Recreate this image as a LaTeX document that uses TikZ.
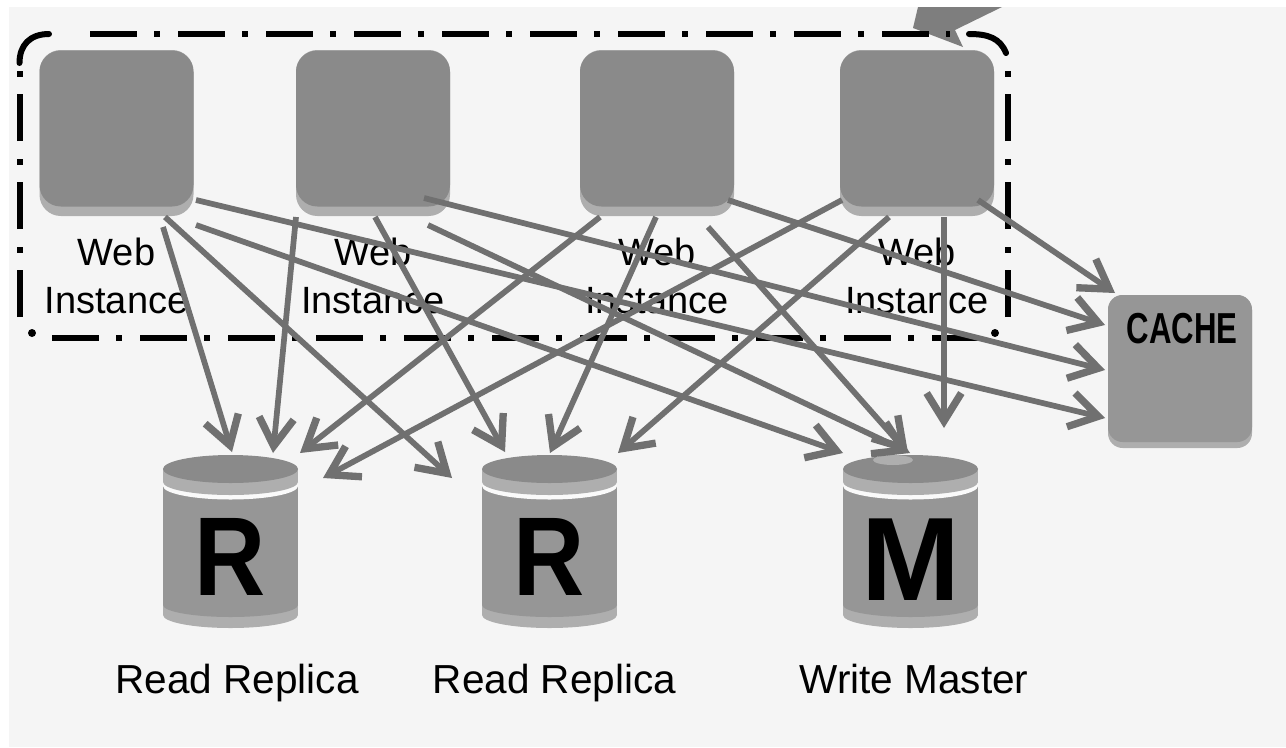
\documentclass[tikz,border=0pt]{standalone}
\usepackage{fontspec}
\usepackage{graphicx}
\setmainfont{Liberation Sans}
\usetikzlibrary{arrows.meta,calc}
\definecolor{bgc}{HTML}{F5F5F5}
\definecolor{boxdark}{HTML}{8A8A8A}
\definecolor{boxlight}{HTML}{AEAEAE}
\definecolor{arrowc}{HTML}{707070}
\tikzset{
  webbox/.style={draw=none,fill=boxlight,rounded corners=16pt,minimum width=115.5pt,minimum height=124.5pt,inner sep=0pt},
  webtop/.style={draw=none,fill=boxdark,rounded corners=16pt,minimum width=115.5pt,minimum height=117pt,inner sep=0pt},
  weblabel/.style={align=center,inner sep=0pt,font=\fontsize{28.5}{36}\selectfont},
  conn/.style={draw=arrowc,line width=4.3pt,-{Straight Barb[length=21pt,width=26pt,line width=5.5pt]}},
  framedash/.style={line width=4.5pt,dash pattern=on 35.25pt off 13pt on 4.5pt off 13.25pt},
  framecorner/.style={line width=4.5pt,line cap=round},
  framedot/.style={fill=black,draw=none,circle,minimum size=6pt,inner sep=0pt},
  dblabel/.style={anchor=base,inner sep=0pt,font=\fontsize{30.4}{36}\selectfont},
  dbletter/.style={anchor=base,inner sep=0pt,font=\fontsize{84}{90}\selectfont\bfseries},
}
\newcommand{\dbcyl}[4]{%
  \begin{scope}[shift={(#2,0)}]
    \fill[boxlight] (-67.5,600) rectangle (67.5,615);
    \fill[boxlight] (0,615) ellipse [x radius=67.5,y radius=13];
    \fill[boxdark!90!white] (-67.5,486) rectangle (67.5,605);
    \fill[boxdark!90!white] (0,605) ellipse [x radius=67.5,y radius=12];
    \fill[white!50!bgc] (0,486) ellipse [x radius=67.5,y radius=13.5];
    \fill[boxlight] (-67.5,469) rectangle (67.5,482);
    \fill[boxlight] (0,482) ellipse [x radius=67.5,y radius=13];
    \fill[boxdark] (0,469) ellipse [x radius=67.5,y radius=14];
  \end{scope}
  \node[minimum width=101pt,minimum height=130pt,inner sep=0pt] (#1) at (#2,541) {};
  \node[dbletter] (#1l) at (#2,#4) {#3};
}
\begin{document}
\begin{tikzpicture}[x=0.75pt,y=-0.75pt]
\useasboundingbox (0,0) rectangle (1286,747);
\fill[white] (0,0) rectangle (1286,747);
\fill[bgc] (9,7) rectangle (1286,747);

% top wedge
\fill[arrowc!90!white] (918,7) -- (1002,7) -- (955,30) -- (963,47) -- (913,28) -- cycle;

% frame
\draw[framedash] (90,34) -- (950,34);
\draw[framedash] (52,338) -- (979,338);
\draw[framedash] (19.5,317) -- (19.5,70);
\draw[framedash] (1007.5,317) -- (1007.5,70);
\draw[framecorner] (19.5,63) .. controls (19.5,45) and (30,34) .. (49,34);
\draw[framecorner] (969,34) .. controls (988,34) and (1000,38) .. (1006,53);
\node[framedot] (fd1) at (32,333) {};
\node[framedot] (fd2) at (995,333) {};

% web instances
\foreach \n/\cx in {w1/116.5,w2/373,w3/657,w4/917}{
  \node[webbox] (\n) at (\cx,133) {};
  \node[webtop] (\n t) at (\cx,128.5) {};
  \node[weblabel] (\n l) at (\cx,276) {Web\\Instance};
}

% cache
\node[draw=none,fill=boxlight,rounded corners=11pt,minimum width=108pt,minimum height=114.75pt,inner sep=0pt] (cache) at (1180,371.5) {};
\node[draw=none,fill=boxdark!90!white,rounded corners=11pt,minimum width=108pt,minimum height=110.25pt,inner sep=0pt] (cachet) at (1180,368.5) {};
\node[anchor=base,inner sep=0pt,font=\fontsize{32.5}{36}\selectfont\bfseries] (cachel) at (1182,343) {\scalebox{0.72}[1]{CACHE}};

% databases
\dbcyl{r1}{230.5}{\scalebox{0.88}[1]{R}}{595}
\dbcyl{r2}{549.5}{\scalebox{0.88}[1]{R}}{595}
\dbcyl{m}{910.5}{\fontsize{89}{90}\selectfont M}{600}
\fill[boxlight] (893,460) ellipse [x radius=20,y radius=5];
\node[dblabel] (lr1) at (237,693) {Read Replica};
\node[dblabel] (lr2) at (554.5,693) {Read Replica};
\node[dblabel] (lm) at (914,693) {Write Master};

% connectors
\draw[conn] ($(w1)+(46.5,94)$) -- ($(r1)+(1.5,-89)$);
\draw[conn] ($(w1)+(48.5,84)$) -- ($(r2)+(-97.5,-63)$);
\draw[conn] ($(w1)+(79.5,92)$) -- ($(m)+(-67.5,-88)$);
\draw[conn] ($(w1)+(79.5,67)$) -- ($(cache)+(-75,46.5)$);
\draw[conn] ($(w2)+(-77,84)$) -- ($(r1)+(42.5,-88)$);
\draw[conn] ($(w2)+(2,84)$) -- ($(r2)+(-44.5,-89)$);
\draw[conn] ($(w2)+(55,92)$) -- ($(m)+(-0.5,-88)$);
\draw[conn] ($(w2)+(51,65)$) -- ($(cache)+(-75,-1.5)$);
\draw[conn] ($(w3)+(-57,84)$) -- ($(r1)+(69.5,-88)$);
\draw[conn] ($(w3)+(-1,84)$) -- ($(r2)+(0.5,-88)$);
\draw[conn] ($(w3)+(51,94)$) -- ($(m)+(-2.5,-88)$);
\draw[conn] ($(w3)+(71,67)$) -- ($(cache)+(-75,-46.5)$);
\draw[conn] ($(w4)+(-75,67)$) -- ($(r1)+(92.5,-63)$);
\draw[conn] ($(w4)+(-28,84)$) -- ($(r2)+(68.5,-88)$);
\draw[conn] ($(w4)+(27,84)$) -- ($(m)+(33.5,-113)$);
\draw[conn] ($(w4)+(61,67)$) -- ($(cache)+(-65,-78.5)$);
\end{tikzpicture}
\end{document}
